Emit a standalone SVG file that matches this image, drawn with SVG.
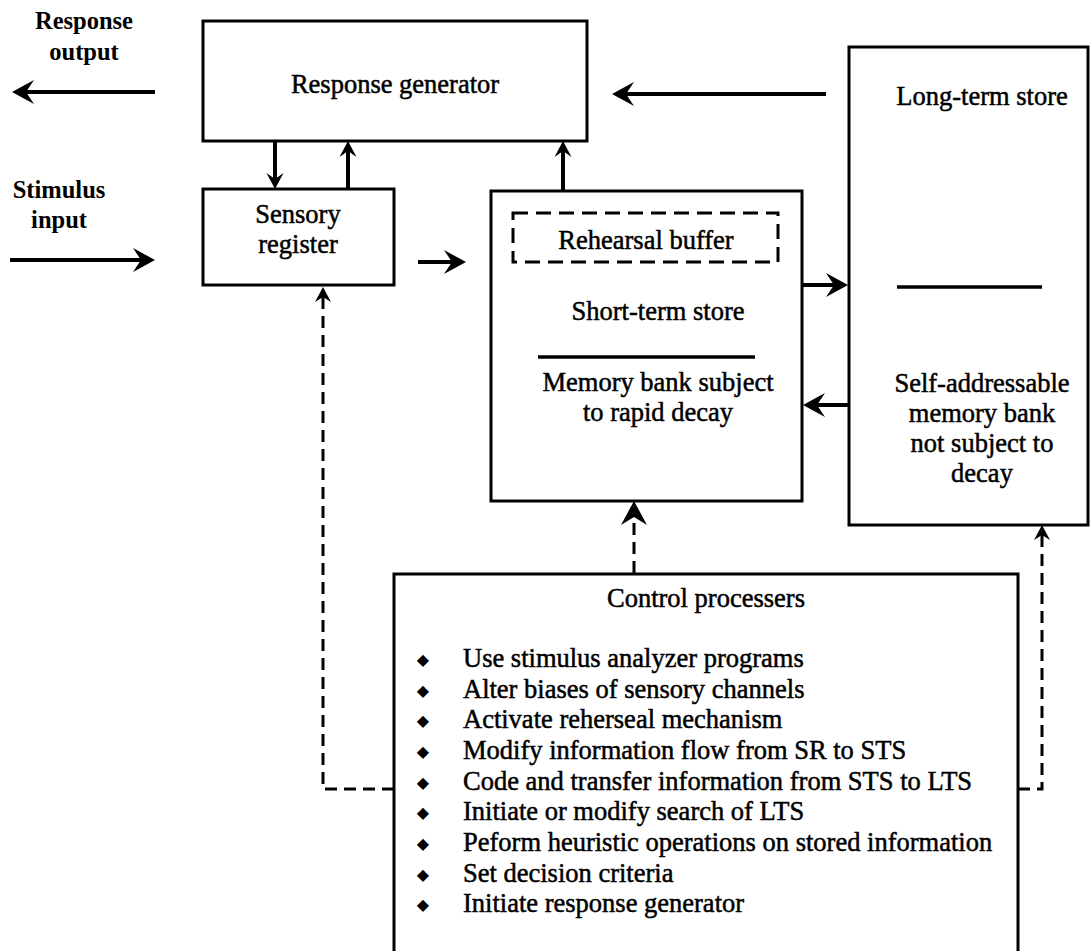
<svg xmlns="http://www.w3.org/2000/svg" width="1090" height="951" viewBox="0 0 1090 951">
<style>
.box{fill:#fff;stroke:#000;stroke-width:3}
.t{font-family:"Liberation Serif","Times New Roman",serif;font-size:26.5px;fill:#000;text-anchor:middle;stroke:#000;stroke-width:0.5}
.lbl{font-family:"Liberation Serif","Times New Roman",serif;font-size:24.5px;font-weight:bold;fill:#000;text-anchor:middle}
.li{font-family:"Liberation Serif","Times New Roman",serif;font-size:26.5px;fill:#000;stroke:#000;stroke-width:0.5}
.bul{font-family:"DejaVu Sans",sans-serif;font-size:16px;fill:#000;text-anchor:middle}
.sep{stroke:#000;stroke-width:3.5}
.c{fill:none;stroke:#000;stroke-width:4}
.d{fill:none;stroke:#000;stroke-width:3;stroke-dasharray:12 7}
</style>
<defs>
<marker id="ab" viewBox="-24 -14 26 28" markerWidth="26" markerHeight="28" refX="-10" refY="0" orient="auto" markerUnits="userSpaceOnUse">
<path d="M0,0 L-22,-12 L-14,0 L-22,12 Z" fill="#000"/>
</marker>
<marker id="as" viewBox="-18 -10 20 20" markerWidth="20" markerHeight="20" refX="-6" refY="0" orient="auto" markerUnits="userSpaceOnUse">
<path d="M0,0 L-16,-8.5 L-10,0 L-16,8.5 Z" fill="#000"/>
</marker>
<marker id="ad" viewBox="-18 -10 20 20" markerWidth="20" markerHeight="20" refX="-6" refY="0" orient="auto" markerUnits="userSpaceOnUse">
<path d="M0,0 L-15,-8 L-10,0 L-15,8 Z" fill="#000"/>
</marker>
<marker id="adb" viewBox="-26 -15 28 30" markerWidth="28" markerHeight="30" refX="-8" refY="0" orient="auto" markerUnits="userSpaceOnUse">
<path d="M0,0 L-24,-13 L-16,0 L-24,13 Z" fill="#000"/>
</marker>
</defs>

<g id="labels">
<text class="lbl" x="84" y="29">Response</text>
<text class="lbl" x="84" y="60">output</text>
<text class="lbl" x="59" y="198">Stimulus</text>
<text class="lbl" x="59" y="228">input</text>
</g>

<g id="response-generator">
<rect class="box" x="203" y="21" width="384" height="120"/>
<text class="t" x="395" y="93">Response generator</text>
</g>

<g id="sensory-register">
<rect class="box" x="203" y="189" width="191" height="96"/>
<text class="t" x="298" y="223">Sensory</text>
<text class="t" x="298" y="253">register</text>
</g>

<g id="short-term-store">
<rect class="box" x="491" y="191" width="311" height="310"/>
<rect x="513" y="213" width="265" height="49" fill="none" stroke="#000" stroke-width="3" stroke-dasharray="15 8"/>
<text class="t" x="646" y="249">Rehearsal buffer</text>
<text class="t" x="658" y="320">Short-term store</text>
<line class="sep" x1="538" y1="357" x2="755" y2="357"/>
<text class="t" x="658" y="391">Memory bank subject</text>
<text class="t" x="658" y="421">to rapid decay</text>
</g>

<g id="long-term-store">
<rect class="box" x="849" y="47" width="239" height="478"/>
<text class="t" x="982" y="105">Long-term store</text>
<line class="sep" x1="897" y1="287" x2="1042" y2="287"/>
<text class="t" x="982" y="392">Self-addressable</text>
<text class="t" x="982" y="422">memory bank</text>
<text class="t" x="982" y="452">not subject to</text>
<text class="t" x="982" y="482">decay</text>
</g>

<g id="control-processers">
<rect class="box" x="394" y="574" width="624" height="400"/>
<text class="t" x="706" y="607">Control processers</text>
<g class="bul">
<text x="423" y="665">◆</text>
<text x="423" y="696">◆</text>
<text x="423" y="726">◆</text>
<text x="423" y="757">◆</text>
<text x="423" y="788">◆</text>
<text x="423" y="818">◆</text>
<text x="423" y="849">◆</text>
<text x="423" y="880">◆</text>
<text x="423" y="910">◆</text>
</g>
<text class="li" x="463" y="667">Use stimulus analyzer programs</text>
<text class="li" x="463" y="698">Alter biases of sensory channels</text>
<text class="li" x="463" y="728">Activate reherseal mechanism</text>
<text class="li" x="463" y="759">Modify information flow from SR to STS</text>
<text class="li" x="463" y="790">Code and transfer information from STS to LTS</text>
<text class="li" x="463" y="820">Initiate or modify search of LTS</text>
<text class="li" x="463" y="851">Peform heuristic operations on stored information</text>
<text class="li" x="463" y="882">Set decision criteria</text>
<text class="li" x="463" y="912">Initiate response generator</text>
</g>

<g id="connectors">
<line class="c" x1="155" y1="92" x2="22" y2="92" marker-end="url(#ab)"/>
<line class="c" x1="10" y1="260" x2="145" y2="260" marker-end="url(#ab)"/>
<line class="c" x1="275" y1="141" x2="275" y2="183" marker-end="url(#as)"/>
<line class="c" x1="348" y1="189" x2="348" y2="147" marker-end="url(#as)"/>
<line class="c" x1="418" y1="262" x2="456" y2="262" marker-end="url(#ab)"/>
<line class="c" x1="563" y1="191" x2="563" y2="147" marker-end="url(#as)"/>
<line class="c" x1="826" y1="94" x2="622" y2="94" marker-end="url(#ab)"/>
<line class="c" x1="802" y1="285" x2="838" y2="285" marker-end="url(#ab)"/>
<line class="c" x1="850" y1="405" x2="813" y2="405" marker-end="url(#ab)"/>
<path class="d" d="M394,789 H323 V293" marker-end="url(#ad)"/>
<path class="d" d="M634,573 V509" marker-end="url(#adb)"/>
<path class="d" d="M1018,789 H1042 V531" marker-end="url(#ad)"/>
</g>
</svg>
